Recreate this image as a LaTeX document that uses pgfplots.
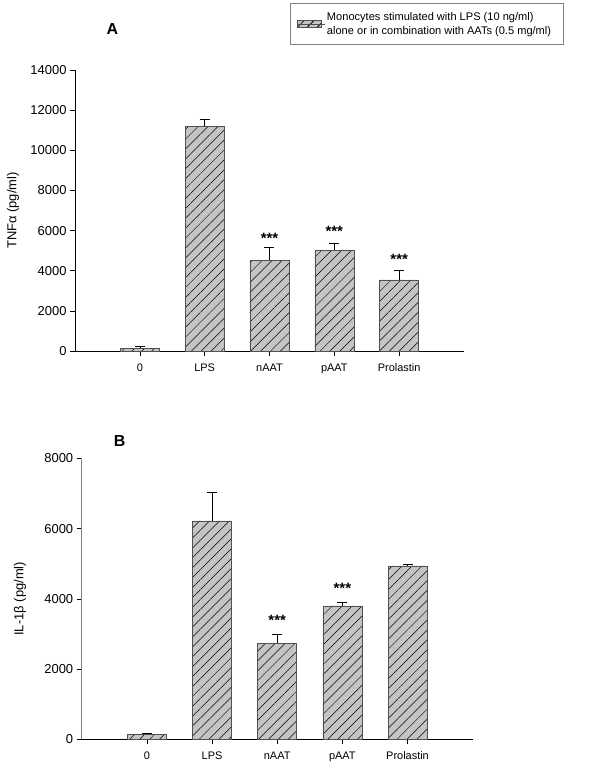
\documentclass[border=0pt]{standalone}
\usepackage{pgfplots}
\pgfplotsset{compat=1.18}
\usepackage{fontspec}
\setmainfont{Liberation Sans}
\usetikzlibrary{patterns.meta}
\definecolor{barfill}{HTML}{C4C4C4}
\definecolor{baredge}{HTML}{505050}

\tikzset{
  hatchbar/.style={
    fill=barfill, draw=baredge, line width=0.6bp,
    postaction={pattern={Lines[angle=45,distance=7bp,line width=0.5bp]}, pattern color=black},
  },
  stars/.style={anchor=base, font=\bfseries\fontsize{15}{17}\selectfont},
}
\pgfplotsset{
  panel/.style={
    scale only axis,
    axis x line=bottom, axis y line=left,
    x axis line style={-, black, line width=0.8bp},
    y axis line style={-, line width=0.8bp},
    ybar, bar width=39bp,
    xmin=-1, xmax=5,
    xtick={0,...,4},
    xticklabels={0,LPS,nAAT,pAAT,Prolastin},
    tick align=outside, major tick length=5bp,
    tick style={black, line width=0.6bp},
    ymin=0, scaled y ticks=false,
    y tick label style={font=\fontsize{13}{15}\selectfont,
      /pgf/number format/1000 sep={}},
    x tick label style={font=\fontsize{11}{13}\selectfont, yshift=-4bp},
    /pgf/number format/assume math mode=true,
    ylabel style={anchor=center, font=\fontsize{13}{15}\selectfont},
    error bars/y dir=plus, error bars/y explicit,
    error bars/error bar style={black, line width=0.6bp},
    error bars/error mark options={rotate=90, black, mark size=5bp, line width=0.6bp},
  },
}

\begin{document}
\begin{tikzpicture}
\useasboundingbox (0,0) rectangle (600bp,-780bp);

% panel A
\begin{axis}[panel,
  at={(75bp,-351bp)}, anchor=south west,
  width=389bp, height=281bp,
  ymax=14000, ytick={0,2000,...,14000},
  ylabel={TNFα (pg/ml)},
  ylabel style={at={(axis description cs:-0.159,0.5)}},
  legend style={at={(axis description cs:0.5527,1.2395)}, anchor=north west,
    draw=gray, line width=0.8bp, font=\fontsize{11.1}{14}\selectfont,
    cells={align=left}, inner xsep=7bp, inner ysep=7bp},
  legend image code/.code={\path[hatchbar] (0bp,-3.5bp) rectangle (24bp,3.5bp);
    \path (0bp,0bp) -- (27bp,0bp);},
]
\addplot[hatchbar] coordinates {
  (0,130) +- (0,80)
  (1,11210) +- (0,335)
  (2,4520) +- (0,630)
  (3,5030) +- (0,350)
  (4,3540) +- (0,480)
};
\addlegendentry{Monocytes stimulated with LPS (10 ng/ml)\\alone or in combination with AATs (0.5 mg/ml)\hspace*{3bp}}
\node[stars] at (axis cs:2,5380) {***};
\node[stars] at (axis cs:3,5680) {***};
\node[stars] at (axis cs:4,4320) {***};
\end{axis}

% panel B
\begin{axis}[panel,
  at={(81.7bp,-739.3bp)}, anchor=south west,
  width=391bp, height=281bp,
  y axis line style={gray},
  ymax=8000, ytick={0,2000,...,8000},
  ylabel={IL-1β (pg/ml)},
  ylabel style={at={(axis description cs:-0.158,0.5)}},
]
\addplot[hatchbar] coordinates {
  (0,150) +- (0,20)
  (1,6220) +- (0,800)
  (2,2735) +- (0,256)
  (3,3800) +- (0,105)
  (4,4937) +- (0,57)
};
\node[stars] at (axis cs:2,3230) {***};
\node[stars] at (axis cs:3,4140) {***};
\end{axis}

\node[font=\bfseries\fontsize{16}{18}\selectfont] at (112.5bp,-29bp) {A};
\node[font=\bfseries\fontsize{16}{18}\selectfont] at (119.7bp,-441bp) {B};
\end{tikzpicture}
\end{document}
